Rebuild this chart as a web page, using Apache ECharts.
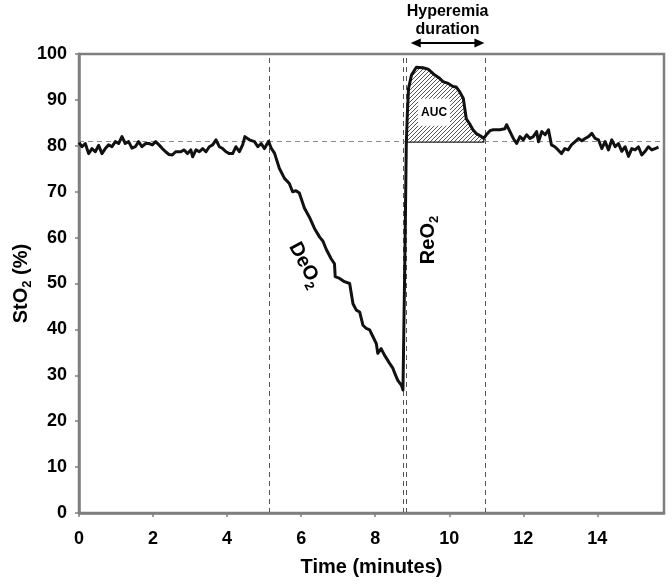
<!DOCTYPE html>
<html>
<head>
<meta charset="utf-8">
<script src="https://cdn.jsdelivr.net/npm/echarts@6/dist/echarts.min.js"></script>
<style>html,body{margin:0;padding:0;background:#fff}#chart{width:672px;height:585px}</style>
</head>
<body>
<div id="chart"></div>
<script>
// ---- data ----
const time = [
  0.00,0.08,0.17,0.26,0.35,0.44,0.53,0.62,0.71,0.80,0.89,0.98,1.07,1.16,1.25,1.34,1.43,1.52,1.61,1.70,
  1.80,1.89,1.98,2.07,2.16,2.25,2.34,2.43,2.52,2.61,2.66,2.75,2.84,2.93,3.02,3.07,3.16,3.25,3.34,3.43,
  3.52,3.61,3.70,3.79,3.88,3.97,4.06,4.15,4.24,4.33,4.42,4.48,4.60,4.74,4.83,4.92,5.01,5.12,5.19,5.28,
  5.41,5.55,5.68,5.77,5.86,5.95,6.09,6.22,6.36,6.50,6.59,6.68,6.81,6.90,6.92,7.04,7.17,7.31,7.40,7.49,
  7.58,7.67,7.76,7.85,7.94,8.03,8.07,8.16,8.25,8.39,8.48,8.53,8.61,8.71,8.75,8.80,8.84,8.87,8.90,8.98,
  9.11,9.29,9.43,9.61,9.74,9.83,9.97,10.10,10.19,10.28,10.38,10.42,10.46,10.55,10.64,10.73,10.87,10.93,11.00,11.10,
  11.19,11.37,11.50,11.55,11.64,11.73,11.82,11.91,12.00,12.09,12.18,12.27,12.36,12.41,12.50,12.59,12.68,12.76,12.85,12.94,
  13.03,13.12,13.21,13.30,13.40,13.49,13.58,13.67,13.76,13.85,13.94,14.03,14.12,14.21,14.30,14.39,14.48,14.57,14.66,14.75,
  14.84,14.93,15.02,15.11,15.20,15.29,15.38,15.47,15.56,15.65
];
const sto2 = [
  80.7,79.8,80.5,78.3,79.4,78.7,80.1,78.3,79.4,80.2,79.8,80.9,80.5,82.0,80.5,80.9,79.5,79.8,80.9,79.8,
  80.5,80.5,80.2,80.9,80.2,79.4,78.7,78.1,78.0,78.7,79.1,78.7,79.1,78.3,79.1,77.6,79.1,78.7,79.4,78.7,
  79.8,80.2,81.3,79.8,79.4,78.7,78.3,78.3,79.8,78.7,80.2,82.0,81.3,80.9,79.8,80.5,79.4,81.0,79.5,78.4,
  75.1,72.9,71.8,70.0,70.2,69.7,66.4,64.5,62.0,60.1,59.2,57.4,55.4,54.3,51.5,51.1,50.4,50.0,45.6,44.2,
  43.8,40.9,40.2,39.9,38.4,36.9,34.8,35.8,34.4,32.6,31.5,30.4,28.9,27.8,26.8,54.7,80.5,87.4,92.5,95.4,
  97.1,97.0,96.7,95.4,94.7,94.0,93.6,92.9,92.8,91.8,90.3,88.1,85.9,84.8,83.5,82.7,82.0,81.6,82.4,83.3,
  83.5,83.5,83.7,84.6,83.1,81.6,80.5,82.0,81.3,82.4,81.6,82.0,83.1,80.9,83.1,82.4,83.5,80.2,79.8,79.1,
  78.3,79.4,79.1,80.2,80.9,81.6,81.1,81.6,82.0,82.7,81.6,81.3,79.4,80.9,79.1,81.3,79.8,80.5,78.8,79.8,
  77.7,79.4,79.1,79.8,78.0,78.8,79.8,79.1,79.4,79.7
];
const xTickLabels = [0, 2, 4, 6, 8, 10, 12, 14];
const yTickLabels = [0, 10, 20, 30, 40, 50, 60, 70, 80, 90, 100];
const eventTimes = [5.13, 8.75, 8.85, 10.96];   // vertical dashed markers
const baselineLevel = 81.1;                      // horizontal dashed marker
const aucStart = 8.84, aucEnd = 10.93, aucBase = 80.8;
const aucLabelAt = [9.59, 87.4];
const hyperemiaSpan = [8.96, 10.95];

const FONT = '"Liberation Sans", Arial, sans-serif';

// hatch pattern
const hc = document.createElement('canvas');
hc.width = 4; hc.height = 4;
const hx = hc.getContext('2d');
hx.fillStyle = '#ffffff'; hx.fillRect(0, 0, 4, 4);
hx.strokeStyle = '#555555'; hx.lineWidth = 1;
hx.beginPath();
hx.moveTo(0, 4); hx.lineTo(4, 0);
hx.moveTo(-1, 1); hx.lineTo(1, -1);
hx.moveTo(3, 5); hx.lineTo(5, 3);
hx.stroke();

const chart = echarts.init(document.getElementById('chart'), null, {renderer: 'canvas'});

const lineData = time.map((t, i) => [t, sto2[i]]);

function renderAuc(params, api) {
  const pts = [];
  for (let i = 0; i < time.length; i++) {
    if (time[i] >= aucStart && time[i] <= aucEnd) pts.push(api.coord([time[i], sto2[i]]));
  }
  pts.push(api.coord([aucEnd, aucBase]));
  pts.push(api.coord([aucStart, aucBase]));
  const c = api.coord(aucLabelAt);
  return {
    type: 'group',
    children: [
      {type: 'polygon', shape: {points: pts}, style: {fill: {image: hc, repeat: 'repeat'}, stroke: '#222', lineWidth: 1.2}},
      {type: 'rect', shape: {x: c[0] - 16, y: c[1] - 13, width: 32, height: 27}, style: {fill: '#fff'}},
      {type: 'text', x: c[0], y: c[1] + 0.5, style: {text: 'AUC', fontSize: 12, fontWeight: 'bold', fontFamily: FONT, fill: '#000', align: 'center', verticalAlign: 'middle'}}
    ]
  };
}

const markData = eventTimes.map(t => ({xAxis: t, lineStyle: {color: '#555', type: [5, 4], width: 1}}));
markData.push({yAxis: baselineLevel, lineStyle: {color: '#888', type: [5, 4], width: 1}});

chart.setOption({
  animation: false,
  backgroundColor: '#fff',
  grid: {left: 79, right: 8, top: 54, bottom: 72, show: true, borderColor: '#7f7f7f', borderWidth: 2.5,
    backgroundColor: 'transparent', containLabel: false, outerBoundsMode: 'none'},
  xAxis: {
    type: 'value', min: 0, max: 15.8, interval: 2,
    name: 'Time (minutes)', nameLocation: 'middle', nameGap: 44, nameMoveOverlap: false,
    nameTextStyle: {fontFamily: FONT, fontWeight: 'bold', fontSize: 20, color: '#000'},
    axisLine: {show: true, lineStyle: {color: '#7f7f7f', width: 2.5}},
    axisTick: {show: true, length: 4, lineStyle: {color: '#7f7f7f', width: 1.5}},
    axisLabel: {fontFamily: FONT, fontWeight: 'bold', fontSize: 18, color: '#000', margin: 17, showMaxLabel: false,
      formatter: v => (xTickLabels.indexOf(v) >= 0 ? String(v) : '')},
    splitLine: {show: false}
  },
  yAxis: {
    type: 'value', min: 0, max: 100, interval: 10,
    name: '{a|StO}{s|2}{a| (%)}', nameLocation: 'middle', nameGap: 45, nameRotate: 90, nameMoveOverlap: false,
    nameTextStyle: {
      rich: {
        a: {fontFamily: FONT, fontWeight: 'bold', fontSize: 20, color: '#000', lineHeight: 26},
        s: {fontFamily: FONT, fontWeight: 'bold', fontSize: 13, color: '#000', lineHeight: 26, verticalAlign: 'bottom', padding: [12, 0, 0, 0]}
      }
    },
    axisLine: {show: true, lineStyle: {color: '#7f7f7f', width: 2.5}},
    axisTick: {show: true, length: 4, lineStyle: {color: '#7f7f7f', width: 1.5}},
    axisLabel: {fontFamily: FONT, fontWeight: 'bold', fontSize: 18, color: '#000', margin: 12,
      formatter: v => (yTickLabels.indexOf(v) >= 0 ? String(v) : '')},
    splitLine: {show: false}
  },
  series: [
    {
      type: 'custom', renderItem: renderAuc, data: [[aucStart, aucBase]], z: 1, silent: true
    },
    {
      type: 'line', data: lineData, showSymbol: false, z: 3,
      lineStyle: {color: '#111', width: 3, join: 'round'},
      markLine: {silent: true, symbol: ['none', 'none'], label: {show: false}, data: markData, z: 0}
    }
  ],
  graphic: []
});

// annotations positioned from the axes
const px = (t, v) => chart.convertToPixel({gridIndex: 0}, [t, v]);
const a0 = px(hyperemiaSpan[0], 0), a1 = px(hyperemiaSpan[1], 0);
const ay = 43, midX = (a0[0] + a1[0]) / 2;
const subRich = {
  a: {fontFamily: FONT, fontWeight: 'bold', fontSize: 20, fill: '#000', lineHeight: 26},
  s: {fontFamily: FONT, fontWeight: 'bold', fontSize: 13, fill: '#000', lineHeight: 26, verticalAlign: 'bottom', padding: [12, 0, 0, 0]}
};
chart.setOption({
  graphic: [
    {type: 'text', x: midX, y: 12, style: {text: 'Hyperemia', fontFamily: FONT, fontWeight: 'bold', fontSize: 16, fill: '#000', align: 'center', verticalAlign: 'middle'}},
    {type: 'text', x: midX, y: 30, style: {text: 'duration', fontFamily: FONT, fontWeight: 'bold', fontSize: 16, fill: '#000', align: 'center', verticalAlign: 'middle'}},
    {type: 'line', shape: {x1: a0[0] + 4, y1: ay, x2: a1[0] - 4, y2: ay}, style: {stroke: '#000', lineWidth: 2}},
    {type: 'polygon', shape: {points: [[a0[0], ay], [a0[0] + 10, ay - 4.5], [a0[0] + 10, ay + 4.5]]}, style: {fill: '#000'}},
    {type: 'polygon', shape: {points: [[a1[0], ay], [a1[0] - 10, ay - 4.5], [a1[0] - 10, ay + 4.5]]}, style: {fill: '#000'}},
    {type: 'text', x: 305, y: 265, rotation: -62 * Math.PI / 180,
      style: {text: '{a|DeO}{s|2}', align: 'center', verticalAlign: 'middle', rich: subRich}},
    {type: 'text', x: 428, y: 240, rotation: Math.PI / 2,
      style: {text: '{a|ReO}{s|2}', align: 'center', verticalAlign: 'middle', rich: subRich}}
  ]
});
</script>
</body>
</html>
